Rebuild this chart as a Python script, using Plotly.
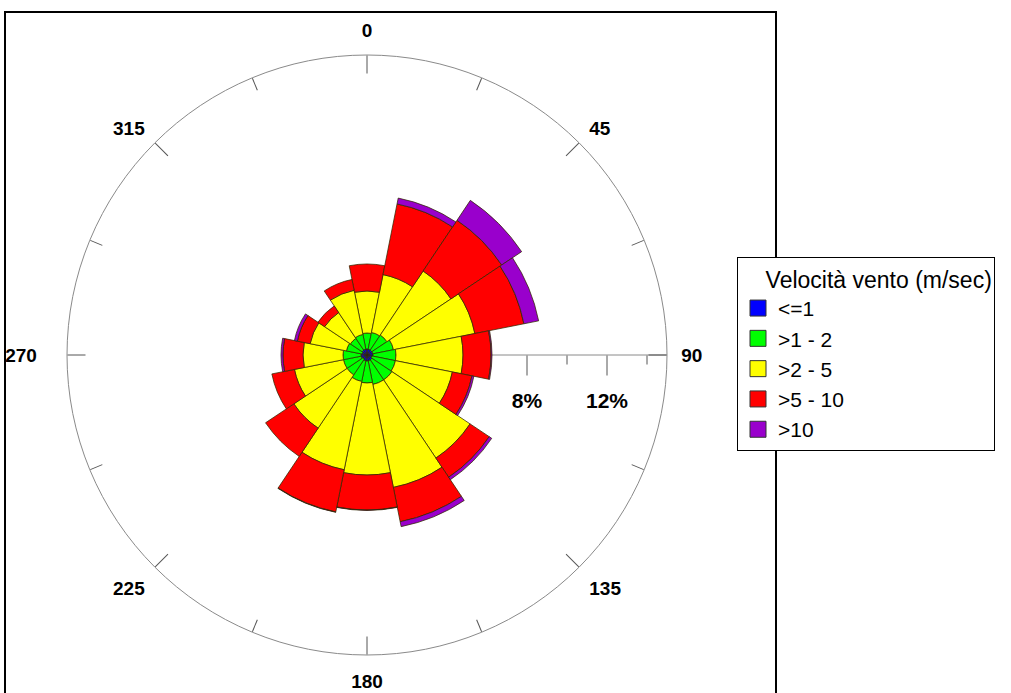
import plotly.graph_objects as go

# Direction bins (degrees, clockwise from North)
directions = [0, 22.5, 45, 67.5, 90, 112.5, 135, 157.5,
              180, 202.5, 225, 247.5, 270, 292.5, 315, 337.5]

# Frequency (%) of each wind-speed class per direction
speed_le1 = [0.30, 0.30, 0.30, 0.30, 0.30, 0.25, 0.30, 0.30,
             0.30, 0.30, 0.25, 0.30, 0.30, 0.25, 0.30, 0.30]
speed_1_2 = [0.80, 0.85, 0.90, 1.05, 1.15, 1.20, 1.20, 1.20,
             1.10, 1.05, 0.95, 0.90, 0.90, 0.80, 0.70, 0.75]
speed_2_5 = [2.10, 2.95, 3.85, 4.15, 3.35, 2.90, 4.70, 5.25,
             4.60, 4.50, 3.20, 2.50, 2.00, 1.85, 1.55, 2.25]
speed_5_10 = [1.35, 3.60, 3.05, 2.50, 1.40, 1.00, 1.15, 1.75,
              1.75, 2.15, 1.70, 1.15, 1.00, 0.65, 0.40, 0.55]
speed_gt10 = [0.00, 0.30, 1.20, 0.75, 0.05, 0.10, 0.15, 0.25,
              0.02, 0.02, 0.00, 0.00, 0.10, 0.15, 0.00, 0.00]

class_names = ["&lt;=1", "&gt;1 - 2", "&gt;2 - 5", "&gt;5 - 10", "&gt;10"]
class_colors = ["#0000FF", "#00FF00", "#FFFF00", "#FF0000", "#9900CC"]
class_values = [speed_le1, speed_1_2, speed_2_5, speed_5_10, speed_gt10]

angle_ticks = [0, 45, 90, 135, 180, 225, 270, 315]
angle_tick_text = ["0", "45", "90", "135", "180", "225",
                   "270&nbsp;&nbsp;&nbsp;", "315"]
angle_minor_ticks = [22.5, 67.5, 112.5, 157.5, 202.5, 247.5, 292.5, 337.5]
radial_major = [8, 12]
radial_major_text = ["8%", "12%"]
radial_minor = [10, 14]
legend_title = "&nbsp;&nbsp;&nbsp;&nbsp;Velocità vento (m/sec)"

fig = go.Figure()

for name, color, vals in zip(class_names, class_colors, class_values):
    fig.add_trace(go.Barpolar(
        r=vals, theta=directions, width=[22.5] * len(directions),
        name=name, subplot="polar", legendgroup=name, showlegend=False,
        marker=dict(color=color, line=dict(color="rgba(50,40,0,0.95)", width=0.8)),
    ))
    # legend swatch (larger square than the default bar icon)
    fig.add_trace(go.Scatterpolar(
        r=[None], theta=[None], mode="markers", name=name, legendgroup=name,
        subplot="polar", showlegend=True, hoverinfo="skip",
        marker=dict(symbol="square", size=16, color=color,
                    line=dict(color="#333333", width=1)),
    ))

# empty traces to host the overlay polars (tick marks)
fig.add_trace(go.Scatterpolar(r=[], theta=[], subplot="polar2", showlegend=False))
fig.add_trace(go.Scatterpolar(r=[], theta=[], subplot="polar3", showlegend=False))

W, H = 1011, 693
cx, cy, R = 367, 355, 300
dom = dict(x=[(cx - R) / W, (cx + R) / W], y=[(H - cy - R) / H, (H - cy + R) / H])

label_font = dict(family="Liberation Sans", size=19, color="black", weight="bold")
tick_col = "#555555"

fig.update_layout(
    width=W, height=H,
    margin=dict(l=0, r=0, t=0, b=0),
    paper_bgcolor="white",
    plot_bgcolor="white",
    showlegend=True,
    polar=dict(
        domain=dom,
        bgcolor="white",
        bargap=0,
        barmode="stack",
        angularaxis=dict(
            rotation=90, direction="clockwise",
            tickmode="array", tickvals=angle_ticks, ticktext=angle_tick_text,
            ticks="outside", ticklen=10, tickcolor="rgba(0,0,0,0)",
            tickfont=label_font,
            showline=True, linecolor="#8a8a8a", linewidth=1,
            showgrid=False,
        ),
        radialaxis=dict(
            range=[0, 15], angle=0, side="clockwise",
            tickmode="array", tickvals=radial_major, ticktext=radial_major_text,
            ticks="outside", ticklen=27, tickcolor="rgba(0,0,0,0)",
            tickfont=dict(family="Liberation Sans", size=21, color="black", weight="bold"),
            showline=True, linecolor="#8a8a8a", linewidth=1,
            showgrid=False, layer="below traces",
        ),
    ),
    polar2=dict(
        domain=dom,
        bgcolor="rgba(0,0,0,0)",
        angularaxis=dict(
            rotation=90, direction="clockwise",
            tickmode="array", tickvals=angle_ticks,
            ticks="inside", ticklen=18, tickcolor=tick_col, tickwidth=1,
            showticklabels=False, showline=False, showgrid=False,
        ),
        radialaxis=dict(
            range=[0, 15], angle=0, side="clockwise",
            tickmode="array", tickvals=radial_major,
            ticks="outside", ticklen=20, tickcolor=tick_col, tickwidth=1,
            showticklabels=False, showline=False, showgrid=False,
        ),
    ),
    polar3=dict(
        domain=dom,
        bgcolor="rgba(0,0,0,0)",
        angularaxis=dict(
            rotation=90, direction="clockwise",
            tickmode="array", tickvals=angle_minor_ticks,
            ticks="inside", ticklen=13, tickcolor=tick_col, tickwidth=1,
            showticklabels=False, showline=False, showgrid=False,
        ),
        radialaxis=dict(
            range=[0, 15], angle=0, side="clockwise",
            tickmode="array", tickvals=radial_minor,
            ticks="outside", ticklen=9, tickcolor=tick_col, tickwidth=1,
            showticklabels=False, showline=False, showgrid=False,
        ),
    ),
    legend=dict(
        x=737 / W, y=1 - 257 / H, xanchor="left", yanchor="top",
        bgcolor="white", bordercolor="black", borderwidth=1,
        font=dict(family="Liberation Sans", size=21, color="black"),
        title=dict(text=legend_title,
                   font=dict(family="Liberation Sans", size=23, color="black")),
        traceorder="normal", itemsizing="trace", tracegroupgap=0,
    ),
    shapes=[dict(
        type="rect", xref="paper", yref="paper",
        x0=5 / W, x1=776 / W, y0=-0.05, y1=1 - 12 / H,
        line=dict(color="black", width=2), fillcolor="rgba(0,0,0,0)", layer="above",
    )],
)

fig.write_html("out.html", config={"displayModeBar": False},
               post_script="document.body.style.margin='0px';document.body.style.overflow='hidden';")
